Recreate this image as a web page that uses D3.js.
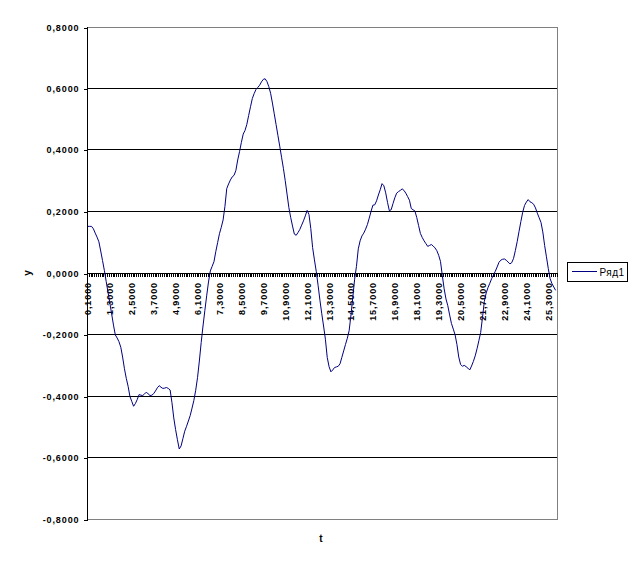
<!DOCTYPE html>
<html>
<head>
<meta charset="utf-8">
<script src="https://cdn.jsdelivr.net/npm/d3@7"></script>
<style>
  body { margin: 0; background: #fff; }
  text { font-family: "Liberation Sans", Arial, sans-serif; }
</style>
</head>
<body>
<div id="chart"></div>
<script>
// categories (t) and the series "Ряд1"
const tValues = [
  0.1, 0.2, 0.3, 0.4, 0.5, 0.6, 0.7, 0.8, 0.9, 1.0, 1.1, 1.2, 1.3, 1.4, 1.5, 1.6, 1.7, 1.8, 1.9, 2.0,
  2.1, 2.2, 2.3, 2.4, 2.5, 2.6, 2.7, 2.8, 2.9, 3.0, 3.1, 3.2, 3.3, 3.4, 3.5, 3.6, 3.7, 3.8, 3.9, 4.0,
  4.1, 4.2, 4.3, 4.4, 4.5, 4.6, 4.7, 4.8, 4.9, 5.0, 5.1, 5.2, 5.3, 5.4, 5.5, 5.6, 5.7, 5.8, 5.9, 6.0,
  6.1, 6.2, 6.3, 6.4, 6.5, 6.6, 6.7, 6.8, 6.9, 7.0, 7.1, 7.2, 7.3, 7.4, 7.5, 7.6, 7.7, 7.8, 7.9, 8.0,
  8.1, 8.2, 8.3, 8.4, 8.5, 8.6, 8.7, 8.8, 8.9, 9.0, 9.1, 9.2, 9.3, 9.4, 9.5, 9.6, 9.7, 9.8, 9.9, 10.0,
  10.1, 10.2, 10.3, 10.4, 10.5, 10.6, 10.7, 10.8, 10.9, 11.0, 11.1, 11.2, 11.3, 11.4, 11.5, 11.6, 11.7, 11.8, 11.9, 12.0,
  12.1, 12.2, 12.3, 12.4, 12.5, 12.6, 12.7, 12.8, 12.9, 13.0, 13.1, 13.2, 13.3, 13.4, 13.5, 13.6, 13.7, 13.8, 13.9, 14.0,
  14.1, 14.2, 14.3, 14.4, 14.5, 14.6, 14.7, 14.8, 14.9, 15.0, 15.1, 15.2, 15.3, 15.4, 15.5, 15.6, 15.7, 15.8, 15.9, 16.0,
  16.1, 16.2, 16.3, 16.4, 16.5, 16.6, 16.7, 16.8, 16.9, 17.0, 17.1, 17.2, 17.3, 17.4, 17.5, 17.6, 17.7, 17.8, 17.9, 18.0,
  18.1, 18.2, 18.3, 18.4, 18.5, 18.6, 18.7, 18.8, 18.9, 19.0, 19.1, 19.2, 19.3, 19.4, 19.5, 19.6, 19.7, 19.8, 19.9, 20.0,
  20.1, 20.2, 20.3, 20.4, 20.5, 20.6, 20.7, 20.8, 20.9, 21.0, 21.1, 21.2, 21.3, 21.4, 21.5, 21.6, 21.7, 21.8, 21.9, 22.0,
  22.1, 22.2, 22.3, 22.4, 22.5, 22.6, 22.7, 22.8, 22.9, 23.0, 23.1, 23.2, 23.3, 23.4, 23.5, 23.6, 23.7, 23.8, 23.9, 24.0,
  24.1, 24.2, 24.3, 24.4, 24.5, 24.6, 24.7, 24.8, 24.9, 25.0, 25.1, 25.2, 25.3, 25.4, 25.5, 25.6, 25.7
];

const yValues = [
  0.150, 0.150, 0.150, 0.142, 0.128, 0.115, 0.100, 0.070, 0.039, 0.007,
  -0.029, -0.064, -0.099, -0.135, -0.171, -0.203, -0.213, -0.225, -0.243, -0.275,
  -0.313, -0.344, -0.370, -0.403, -0.419, -0.435, -0.426, -0.413, -0.397, -0.399,
  -0.400, -0.395, -0.389, -0.395, -0.400, -0.399, -0.394, -0.385, -0.375, -0.368,
  -0.373, -0.377, -0.376, -0.374, -0.377, -0.382, -0.423, -0.473, -0.511, -0.544,
  -0.574, -0.564, -0.540, -0.516, -0.500, -0.483, -0.465, -0.441, -0.416, -0.383,
  -0.342, -0.288, -0.228, -0.174, -0.124, -0.076, -0.031, 0.005, 0.020, 0.035,
  0.068, 0.097, 0.126, 0.147, 0.171, 0.215, 0.273, 0.288, 0.301, 0.311,
  0.316, 0.332, 0.366, 0.393, 0.423, 0.450, 0.462, 0.482, 0.511, 0.539,
  0.566, 0.582, 0.595, 0.602, 0.609, 0.620, 0.628, 0.630, 0.621, 0.605,
  0.583, 0.551, 0.516, 0.481, 0.446, 0.411, 0.375, 0.339, 0.299, 0.255,
  0.211, 0.179, 0.151, 0.125, 0.121, 0.130, 0.140, 0.154, 0.168, 0.184,
  0.202, 0.189, 0.143, 0.081, 0.041, 0.003, -0.042, -0.090, -0.134, -0.174,
  -0.217, -0.276, -0.306, -0.323, -0.317, -0.309, -0.307, -0.305, -0.297, -0.276,
  -0.255, -0.234, -0.214, -0.189, -0.138, -0.080, -0.022, 0.020, 0.077, 0.103,
  0.119, 0.128, 0.141, 0.156, 0.177, 0.199, 0.219, 0.220, 0.233, 0.252,
  0.269, 0.289, 0.282, 0.259, 0.228, 0.201, 0.204, 0.224, 0.243, 0.258,
  0.263, 0.267, 0.272, 0.267, 0.258, 0.247, 0.235, 0.208, 0.204, 0.200,
  0.179, 0.153, 0.127, 0.114, 0.103, 0.094, 0.085, 0.088, 0.091, 0.086,
  0.080, 0.071, 0.056, 0.036, -0.010, -0.053, -0.086, -0.108, -0.138, -0.166,
  -0.184, -0.203, -0.234, -0.275, -0.299, -0.305, -0.302, -0.306, -0.311, -0.317,
  -0.304, -0.289, -0.271, -0.248, -0.222, -0.195, -0.146, -0.094, -0.067, -0.049,
  -0.035, -0.020, -0.008, 0.004, 0.018, 0.033, 0.040, 0.043, 0.044, 0.040,
  0.034, 0.028, 0.032, 0.046, 0.072, 0.101, 0.134, 0.166, 0.196, 0.218,
  0.229, 0.237, 0.230, 0.227, 0.222, 0.210, 0.193, 0.178, 0.163, 0.132,
  0.088, 0.051, 0.013, -0.020, -0.036, -0.047, -0.058
];

// category labels shown on the axis (every 12th category)
const xTickValues = [0.1, 1.3, 2.5, 3.7, 4.9, 6.1, 7.3, 8.5, 9.7, 10.9, 12.1,
  13.3, 14.5, 15.7, 16.9, 18.1, 19.3, 20.5, 21.7, 22.9, 24.1, 25.3];
const yTickValues = [0.8, 0.6, 0.4, 0.2, 0, -0.2, -0.4, -0.6, -0.8];
const seriesName = 'Ряд1';

// sizes
const [width, height] = [638, 567];
const plot = { left: 87, right: 556.5, top: 26.5, bottom: 518.5 };

// number format like "0,2000" / "-0,4000"
const fmt = (d) => d3.format('.4f')(d).replace('.', ',').replace('−', '-');

const svg = d3.select('#chart')
    .append('svg')
    .attr('width', width)
    .attr('height', height);

const x = d3.scaleBand()
    .domain(tValues)
    .range([plot.left, plot.right])
    .padding(0);

const y = d3.scaleLinear()
    .domain([-0.8, 0.8])
    .range([plot.bottom, plot.top]);

const cx = (t) => x(t) + x.bandwidth() / 2;
const y0 = Math.round(y(0));

// horizontal gridlines (black), top/bottom borders gray
svg.append('g')
    .selectAll('line')
    .data(yTickValues)
    .join('line')
    .attr('x1', plot.left)
    .attr('x2', plot.right)
    .attr('y1', (d) => Math.round(y(d)) + 0.5)
    .attr('y2', (d) => Math.round(y(d)) + 0.5)
    .attr('stroke', (d) => (Math.abs(d) === 0.8 ? '#808080' : '#000'))
    .attr('shape-rendering', 'crispEdges');

// right border
svg.append('line')
    .attr('x1', Math.round(plot.right) + 0.5)
    .attr('x2', Math.round(plot.right) + 0.5)
    .attr('y1', Math.round(y(0.8)))
    .attr('y2', Math.round(y(-0.8)) + 1)
    .attr('stroke', '#808080')
    .attr('shape-rendering', 'crispEdges');

// y axis
const yAxis = d3.axisLeft(y)
    .tickValues(yTickValues)
    .tickSize(4)
    .tickPadding(4)
    .tickFormat(fmt);

const gy = svg.append('g')
    .attr('transform', `translate(${plot.left + 0.5},0.5)`)
    .call(yAxis);

gy.select('.domain').remove();
gy.append('line')
    .attr('y1', Math.round(y(0.8)) - 0.5)
    .attr('y2', Math.round(y(-0.8)) + 0.5)
    .attr('stroke', '#000');
gy.selectAll('.tick line')
    .attr('transform', (d) => `translate(0,${Math.round(y(d)) - y(d)})`)
    .attr('stroke', '#000');
gy.selectAll('.tick text')
    .attr('transform', (d) => `translate(0,${Math.round(y(d)) - y(d)})`)
    .style('font-size', '9px')
    .style('font-weight', 'bold')
    .style('letter-spacing', '0.9px')
    .attr('fill', '#000');
gy.selectAll('line').attr('shape-rendering', 'crispEdges');

// x axis at y = 0: ticks on every category boundary
const boundaries = tValues.map((t) => x(t)).concat([plot.right]);
const gx = svg.append('g');

gx.selectAll('line.tk')
    .data(boundaries)
    .join('line')
    .attr('class', 'tk')
    .attr('x1', (d) => Math.round(d) + 0.5)
    .attr('x2', (d) => Math.round(d) + 0.5)
    .attr('y1', y0)
    .attr('y2', y0 + 4)
    .attr('stroke', '#000')
    .attr('shape-rendering', 'crispEdges');

gx.append('line')
    .attr('x1', plot.left)
    .attr('x2', plot.right)
    .attr('y1', y0 + 0.5)
    .attr('y2', y0 + 0.5)
    .attr('stroke', '#000')
    .attr('shape-rendering', 'crispEdges');

gx.selectAll('text')
    .data(xTickValues)
    .join('text')
    .attr('transform', (d) => `translate(${cx(d) + 3.5},${y0 + 9}) rotate(-90)`)
    .attr('text-anchor', 'end')
    .style('font-size', '9px')
    .style('font-weight', 'bold')
    .style('letter-spacing', '0.9px')
    .text(fmt);

// series line
const line = d3.line()
    .x((d) => cx(d[0]))
    .y((d) => y(d[1]));

svg.append('path')
    .datum(tValues.map((t, i) => [t, yValues[i]]))
    .attr('d', line)
    .attr('fill', 'none')
    .attr('stroke', '#000080')
    .attr('stroke-width', 1);

// axis titles
svg.append('text')
    .attr('transform', `translate(31,${y0}) rotate(-90)`)
    .attr('text-anchor', 'middle')
    .style('font-size', '10px')
    .style('font-weight', 'bold')
    .text('y');

svg.append('text')
    .attr('x', 321)
    .attr('y', 542)
    .attr('text-anchor', 'middle')
    .style('font-size', '10px')
    .style('font-weight', 'bold')
    .text('t');

// legend
const lg = svg.append('g').attr('transform', 'translate(567.5,262.5)');
lg.append('rect')
    .attr('width', 60)
    .attr('height', 19)
    .attr('fill', '#fff')
    .attr('stroke', '#000')
    .attr('shape-rendering', 'crispEdges');
lg.append('line')
    .attr('x1', 4)
    .attr('x2', 29)
    .attr('y1', 9)
    .attr('y2', 9)
    .attr('stroke', '#000080')
    .attr('shape-rendering', 'crispEdges');
lg.append('text')
    .attr('x', 32)
    .attr('y', 13.5)
    .style('font-size', '10px')
    .style('letter-spacing', '0.5px')
    .text(seriesName);
</script>
</body>
</html>
